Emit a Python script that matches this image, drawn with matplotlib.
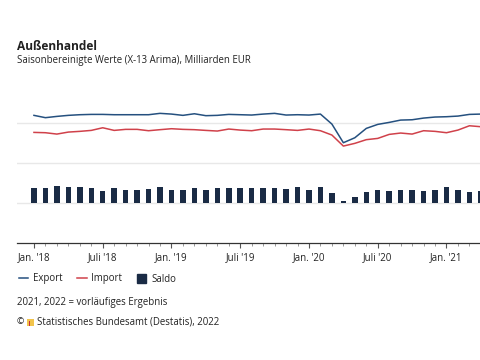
import matplotlib
matplotlib.use("Agg")
from matplotlib import pyplot as plt
from matplotlib.lines import Line2D
from matplotlib.patches import Patch, Rectangle
import numpy as np

# months since Jan 2018
export = [110.0, 107.1, 108.7, 110.0, 110.8, 111.2, 111.2, 110.8, 110.8, 110.8,
          110.8, 112.5, 111.6, 110.0, 112.0, 109.6, 110.0, 111.2, 110.8, 110.4,
          111.6, 112.5, 110.4, 110.8, 110.4, 111.6, 99.1, 75.8, 82.0, 93.7,
          98.7, 101.2, 104.1, 104.5, 106.6, 107.9, 108.3, 109.1, 111.2, 111.6, 111.8]
imports = [88.7, 88.3, 86.6, 89.1, 90.0, 91.2, 94.5, 91.2, 92.5, 92.5,
           90.8, 92.1, 93.3, 92.5, 92.1, 91.2, 90.4, 92.9, 91.6, 90.8,
           92.9, 92.9, 92.1, 91.2, 92.9, 90.8, 85.4, 71.6, 75.0, 79.6,
           81.2, 86.2, 87.9, 86.6, 90.8, 90.0, 88.3, 91.6, 97.0, 95.8, 95.8]
saldo = [18.8, 18.8, 21.2, 20.4, 20.4, 19.2, 15.4, 19.2, 17.1, 17.1,
         17.9, 20.4, 17.1, 17.1, 18.8, 17.1, 18.8, 18.8, 18.8, 18.8,
         18.8, 18.8, 17.9, 20.0, 17.1, 20.0, 12.9, 3.3, 7.5, 14.2,
         16.7, 15.4, 16.2, 17.1, 15.4, 17.1, 20.0, 17.1, 14.2, 15.0]
tick_labels = ["Jan. '18", "Juli '18", "Jan. '19", "Juli '19", "Jan. '20", "Juli '20", "Jan. '21"]

c_exp = "#25507f"
c_imp = "#d0414a"
c_sal = "#1a2b45"
font = "Open Sans"
plt.rcParams['font.family'] = [font, 'DejaVu Sans']

fig = plt.figure(figsize=(4.8, 3.6), dpi=100)
ax = fig.add_axes([17/480, 0.324, (584-17)/480, 0.40])

m_line = np.arange(len(export))
m_bar = np.arange(len(saldo))
ax.plot(m_line, export, color=c_exp, lw=1.1)
ax.plot(m_line, imports, color=c_imp, lw=1.1)
ax.bar(m_bar, saldo, width=0.48, color=c_sal)

ax.set_xlim(-1.48, 48)
ax.set_ylim(-50, 130)
ax.set_yticks([0, 50, 100])
ax.yaxis.grid(True, color="#e8e8e8", lw=1)
ax.set_axisbelow(True)
ax.tick_params(axis='y', length=0, labelleft=False)
for s in ["top", "right", "left"]:
    ax.spines[s].set_visible(False)
ax.spines["bottom"].set_color("#333333")
ax.spines["bottom"].set_linewidth(0.9)

ax.set_xticks(np.arange(0, 6*len(tick_labels), 6))
ax.set_xticklabels(tick_labels, fontsize=7, color="#222222")
ax.set_xticks(np.arange(0, 48), minor=True)
ax.tick_params(axis='x', which='major', length=3.5, width=0.8, color="#555555", pad=3)
ax.tick_params(axis='x', which='minor', length=2.5, width=0.6, color="#888888")

fig.text(17/480, 1 - 47/360, "Außenhandel", fontsize=8.6, fontweight="bold", color="#222222", va="center")
fig.text(17/480, 1 - 61/360, "Saisonbereinigte Werte (X-13 Arima), Milliarden EUR", fontsize=6.9, color="#222222", va="center")

handles = [Line2D([], [], color=c_exp, lw=1.1), Line2D([], [], color=c_imp, lw=1.1),
           Patch(color=c_sal)]
fig.legend(handles, ["Export", "Import", "Saldo"], loc="center left", bbox_to_anchor=(10/480, 1 - 279/360),
           ncol=3, frameon=False, fontsize=6.9, handlelength=1.0, handleheight=1.0,
           handletextpad=0.5, columnspacing=1.5, labelcolor="#222222")

fig.text(17/480, 1 - 302/360, "2021, 2022 = vorläufiges Ergebnis", fontsize=6.9, color="#222222", va="center")
fig.text(17/480, 1 - 322/360, "©", fontsize=6.3, color="#222222", va="center")
fig.patches.append(Rectangle((27/480, 1 - 326/360), 7/480, 7/360, transform=fig.transFigure,
                             facecolor="#f2c44c", edgecolor="none"))
fig.patches.append(Rectangle((29/480, 1 - 326/360), 1.5/480, 5/360, transform=fig.transFigure,
                             facecolor="#c8323c", edgecolor="none"))
fig.text(37/480, 1 - 322/360, "Statistisches Bundesamt (Destatis), 2022", fontsize=6.9, color="#222222", va="center")

fig.savefig("out.png", dpi=100)
